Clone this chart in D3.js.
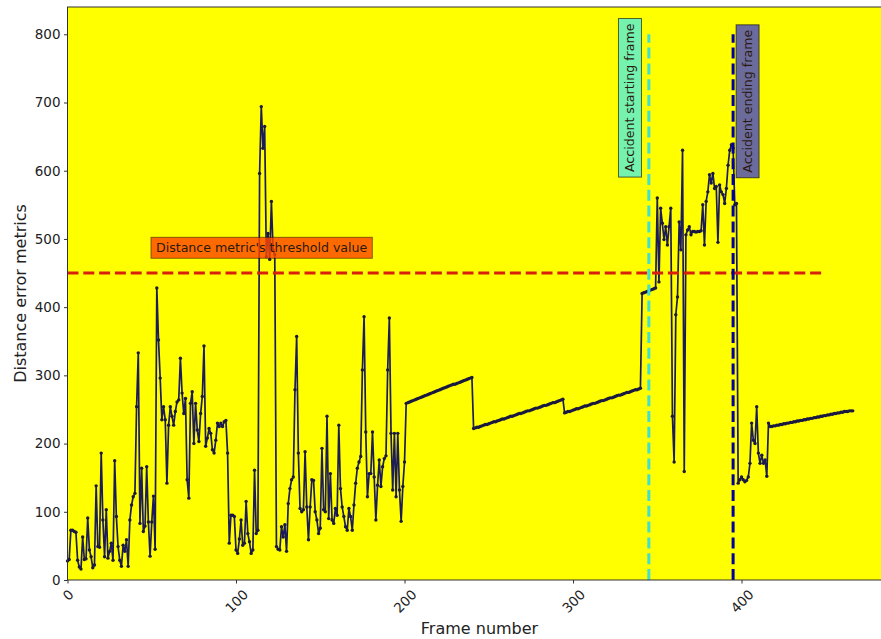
<!DOCTYPE html>
<html>
<head>
<meta charset="utf-8">
<script src="https://cdn.jsdelivr.net/npm/d3@7"></script>
<style>
  body { margin: 0; background: #fff; }
  text { font-family: "DejaVu Sans", sans-serif; }
</style>
</head>
<body>
<div id="chart"></div>
<script>
// distance error per frame (index = frame number)
const framesEarly = [
  28, 30, 73, 73, 71, 70, 29, 19, 16, 63,
  30, 31, 91, 44, 34, 18, 22, 138, 49, 48,
  186, 88, 34, 103, 32, 42, 54, 29, 175, 93,
  49, 29, 20, 51, 42, 59, 20, 88, 110, 122,
  127, 254, 333, 83, 164, 71, 79, 166, 85, 35,
  85, 123, 45, 428, 352, 296, 235, 254, 235, 142,
  227, 254, 240, 227, 247, 261, 264, 325, 274, 244,
  266, 147, 120, 259, 276, 200, 259, 220, 203, 244,
  269, 343, 196, 208, 222, 215, 191, 186, 205, 230,
  225, 230, 225, 232, 234, 186, 54, 95, 95, 93
];
const framesMid = [
  44, 39, 60, 88, 51, 54, 115, 68, 56, 39,
  44, 161, 68, 73, 596, 694, 633, 665, 474, 508,
  470, 555, 484, 477, 49, 45, 44, 78, 63, 81,
  42, 112, 134, 147, 151, 279, 357, 186, 105, 100,
  103, 188, 107, 59, 107, 147, 146, 100, 88, 68,
  76, 193, 103, 100, 240, 90, 156, 88, 83, 105,
  95, 227, 134, 107, 93, 78, 73, 105, 93, 73,
  110, 142, 164, 173, 181, 308, 386, 217, 122, 156,
  156, 217, 151, 88, 139, 176, 137, 166, 178, 182,
  308, 384, 215, 132, 215, 122, 215, 132, 86, 137,
  173
];
// frames 201-240
const driftA = [
  259, 260, 261, 262, 263, 264, 265, 266, 267, 268,
  269, 270, 271, 272, 273, 274, 275, 276, 277, 278,
  279, 280, 281, 282, 283, 284, 285, 286, 287, 287,
  288, 289, 290, 291, 292, 293, 294, 295, 296, 297
];
// frames 241-294
const driftB = [
  222, 223, 224, 224, 225, 226, 227, 228, 228, 229,
  230, 231, 232, 232, 233, 234, 235, 236, 236, 237,
  238, 239, 240, 240, 241, 242, 243, 244, 244, 245,
  246, 247, 248, 248, 249, 250, 251, 252, 252, 253,
  254, 255, 256, 256, 257, 258, 259, 260, 260, 261,
  262, 263, 264, 265
];
// frames 295-340
const driftC = [
  245, 246, 247, 247, 248, 249, 250, 251, 251, 252,
  253, 254, 255, 255, 256, 257, 258, 259, 259, 260,
  261, 262, 263, 263, 264, 265, 266, 267, 267, 268,
  269, 270, 271, 271, 272, 273, 274, 275, 275, 276,
  277, 278, 279, 279, 280, 281
];
// frames 341-398
const framesAccident = [
  420, 421, 422, 423, 424, 425, 426, 427, 428,
  560, 437, 545, 523, 499, 518, 491, 518, 545, 240,
  173, 389, 415, 525, 484, 630, 159, 506, 513, 518,
  506, 511, 511, 510, 511, 511, 512, 550, 491, 555,
  569, 594, 582, 596, 574, 577, 495, 579, 569, 565,
  552, 574, 608, 630, 638, 633, 550, 552, 142
];
// frames 399-466
const framesAfter = [
  147, 151, 147, 144, 146, 151, 171, 230, 205, 200,
  254, 186, 171, 183, 171, 176, 152, 230,
  225, 225, 226, 226, 227, 227, 228, 228, 229, 229,
  230, 230, 231, 231, 232, 232, 233, 233, 234, 234,
  235, 235, 236, 236, 237, 237, 238, 238, 239, 239,
  240, 240, 241, 241, 242, 242, 243, 243, 244, 244,
  245, 245, 246, 246, 247, 247, 247, 248, 248, 248
];

const thresholdValue = 450, thresholdEnd = 450;
const accidentStart = 345, accidentEnd = 395, markerTop = 800;
const xTicks = [0, 100, 200, 300, 400];
const yTicks = [0, 100, 200, 300, 400, 500, 600, 700, 800];

const distances = [].concat(framesEarly, framesMid, driftA, driftB, driftC, framesAccident, framesAfter)
  .map((v, i) => ({frame: i, value: v}));

const W = 881, H = 639;
const margin = {top: 7, left: 67.5};
const plotW = 824, plotH = 573;

const svg = d3.select("#chart").append("svg")
    .attr("width", W)
    .attr("height", H);

const x = d3.scaleLinear().domain([0, 489]).range([margin.left, margin.left + plotW]);
const y = d3.scaleLinear().domain([0, 840]).range([margin.top + plotH, margin.top]);

// axes background
svg.append("rect")
    .attr("x", margin.left).attr("y", margin.top)
    .attr("width", plotW).attr("height", plotH)
    .attr("fill", "#ffff00");

// data line + points
svg.append("path")
    .datum(distances)
    .attr("fill", "none")
    .attr("stroke", "#1c1c58")
    .attr("stroke-width", 1.7)
    .attr("stroke-linejoin", "round")
    .attr("d", d3.line().x(d => x(d.frame)).y(d => y(d.value)));

svg.selectAll("circle.pt")
    .data(distances)
    .join("circle")
    .attr("class", "pt")
    .attr("cx", d => x(d.frame))
    .attr("cy", d => y(d.value))
    .attr("r", 1.7)
    .attr("fill", "#1a1a40");

// threshold line
svg.append("line")
    .attr("x1", x(0)).attr("x2", x(thresholdEnd))
    .attr("y1", y(thresholdValue)).attr("y2", y(thresholdValue))
    .attr("stroke", "#d8200a")
    .attr("stroke-width", 3)
    .attr("stroke-dasharray", "11,4.8");

// accident start / end lines
svg.append("line")
    .attr("x1", x(accidentStart)).attr("x2", x(accidentStart))
    .attr("y1", y(0)).attr("y2", y(markerTop))
    .attr("stroke", "#40e0d0")
    .attr("stroke-width", 3)
    .attr("stroke-dasharray", "11,4.8");

svg.append("line")
    .attr("x1", x(accidentEnd)).attr("x2", x(accidentEnd))
    .attr("y1", y(0)).attr("y2", y(markerTop))
    .attr("stroke", "#0000a0")
    .attr("stroke-width", 3)
    .attr("stroke-dasharray", "11,4.8");

// labelled boxes
function boxedLabel(txt, fx, fv, rotate, fill, opacity) {
  const g = svg.append("g");
  const rect = g.append("rect");
  const t = g.append("text")
      .attr("font-size", 12.6)
      .attr("fill", "#2a1a10")
      .style("dominant-baseline", "central")
      .text(txt);
  const len = t.node().getComputedTextLength();
  const pad = 5, h = 15;
  if (rotate) {
    t.attr("transform", `translate(${x(fx)},${y(fv)}) rotate(-90)`);
    rect.attr("x", x(fx) - h / 2 - pad + 1).attr("y", y(fv) - len - pad)
        .attr("width", h + 2 * pad - 2).attr("height", len + 2 * pad);
  } else {
    t.attr("x", x(fx)).attr("y", y(fv));
    rect.attr("x", x(fx) - pad).attr("y", y(fv) - h / 2 - pad + 2)
        .attr("width", len + 2 * pad).attr("height", h + 2 * pad - 4);
  }
  rect.attr("fill", fill).attr("fill-opacity", opacity)
      .attr("stroke", "#000").attr("stroke-opacity", opacity * 0.6).attr("stroke-width", 1);
}

boxedLabel("Distance metric's threshold value", 52.5, 487, false, "orangered", 0.8);
boxedLabel("Accident starting frame", 333.8, 598, true, "#74f2ae", 1);
boxedLabel("Accident ending frame", 403.6, 597, true, "#6b6b9c", 1);

// spines
svg.append("rect")
    .attr("x", margin.left).attr("y", margin.top)
    .attr("width", plotW).attr("height", plotH)
    .attr("fill", "none")
    .attr("stroke", "#333")
    .attr("stroke-width", 1);

// x axis
const xAxis = svg.append("g")
    .attr("transform", `translate(0,${y(0)})`)
    .call(d3.axisBottom(x).tickValues(xTicks).tickSize(3.5).tickSizeOuter(0));
xAxis.select(".domain").remove();
xAxis.selectAll(".tick line").attr("stroke", "#333");
xAxis.selectAll(".tick text")
    .attr("font-size", 13.5)
    .attr("font-family", "DejaVu Sans, sans-serif")
    .attr("fill", "#222")
    .attr("y", 0).attr("dy", null)
    .style("dominant-baseline", "central")
    .attr("transform", function() {
      const w = this.getComputedTextLength();
      const off = 7 + (w + 14) * Math.SQRT1_2 / 2;
      return `translate(0,${off}) rotate(-45)`;
    });

// y axis
const yAxis = svg.append("g")
    .attr("transform", `translate(${margin.left},0)`)
    .call(d3.axisLeft(y).tickValues(yTicks).tickSize(3.5).tickPadding(3.5).tickSizeOuter(0));
yAxis.select(".domain").remove();
yAxis.selectAll(".tick line").attr("stroke", "#333");
yAxis.selectAll(".tick text")
    .attr("font-size", 13.5)
    .attr("font-family", "DejaVu Sans, sans-serif")
    .attr("fill", "#222");

// axis labels
svg.append("text")
    .attr("x", margin.left + plotW / 2)
    .attr("y", 634)
    .attr("text-anchor", "middle")
    .attr("font-size", 16)
    .attr("fill", "#222")
    .text("Frame number");

svg.append("text")
    .attr("transform", `translate(20,${margin.top + plotH / 2}) rotate(-90)`)
    .attr("text-anchor", "middle")
    .style("dominant-baseline", "central")
    .attr("font-size", 16)
    .attr("fill", "#222")
    .text("Distance error metrics");
</script>
</body>
</html>
